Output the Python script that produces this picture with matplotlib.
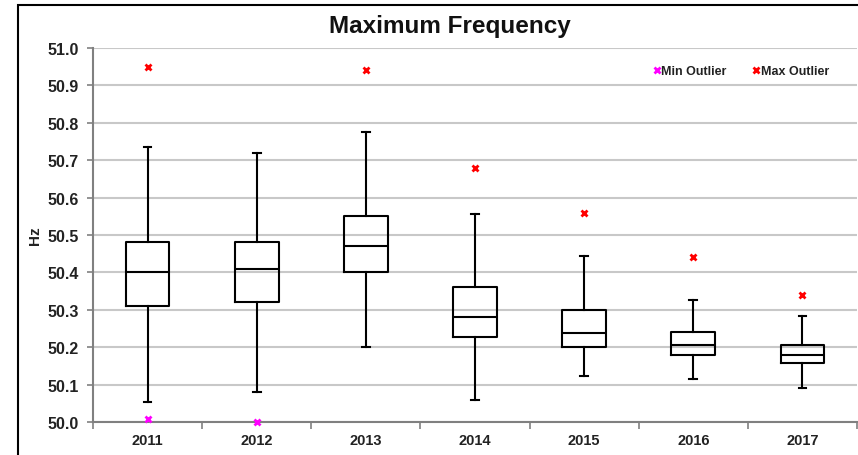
import matplotlib
matplotlib.use("Agg")
import matplotlib.pyplot as plt
from matplotlib.patches import Rectangle

plt.rcParams['font.family'] = ['Liberation Sans', 'DejaVu Sans']
plt.rcParams['font.weight'] = 'bold'

# data (Hz)
years = ['2011', '2012', '2013', '2014', '2015', '2016', '2017']
whisk_hi = [50.735, 50.72, 50.775, 50.557, 50.445, 50.326, 50.284]
q3 = [50.48, 50.48, 50.55, 50.36, 50.30, 50.24, 50.207]
median = [50.40, 50.41, 50.47, 50.28, 50.237, 50.205, 50.18]
q1 = [50.31, 50.32, 50.40, 50.226, 50.20, 50.18, 50.157]
whisk_lo = [50.053, 50.08, 50.20, 50.06, 50.122, 50.116, 50.09]
max_outlier = [50.95, None, 50.94, 50.68, 50.56, 50.44, 50.34]
min_outlier = [50.007, 50.0, None, None, None, None, None]

txt = '#222222'

fig = plt.figure(figsize=(8.58, 4.56), dpi=100)
ax = fig.add_axes([0.1084, 0.0724, 0.8904, 0.8201])

# chart frame
fig.patches.append(Rectangle((18 / 858, -0.05), 1.2, 1 - 6 / 456 + 0.05,
                             transform=fig.transFigure, fill=False,
                             edgecolor='black', linewidth=1.5))

stats = []
for i in range(len(years)):
    stats.append({'whislo': whisk_lo[i], 'q1': q1[i], 'med': median[i],
                  'q3': q3[i], 'whishi': whisk_hi[i], 'fliers': []})

pos = list(range(len(years)))
ax.bxp(stats, positions=pos, widths=0.4, showfliers=False,
       boxprops=dict(color='black', linewidth=1.5),
       medianprops=dict(color='black', linewidth=1.5),
       whiskerprops=dict(color='black', linewidth=1.5),
       capprops=dict(color='black', linewidth=1.5), capwidths=0.07)

mx = [(p, v) for p, v in zip(pos, max_outlier) if v is not None]
mn = [(p, v) for p, v in zip(pos, min_outlier) if v is not None]
ax.plot([p for p, v in mn], [v for p, v in mn], linestyle='none', marker='x',
        color='#ff00ff', markersize=5, markeredgewidth=2.0, label='Min Outlier',
        clip_on=False, zorder=5)
ax.plot([p for p, v in mx], [v for p, v in mx], linestyle='none', marker='x',
        color='#ff0000', markersize=5, markeredgewidth=2.0, label='Max Outlier',
        clip_on=False, zorder=5)

ax.set_xlim(-0.5, len(years) - 0.5)
ax.set_ylim(50.0, 51.0)
ax.set_yticks([50.0 + 0.1 * k for k in range(11)])
ax.set_yticklabels(['%.1f' % (50.0 + 0.1 * k) for k in range(11)])
ax.set_xticks(pos)
ax.set_xticklabels(years)
ax.set_xticks([p - 0.5 for p in range(len(years) + 1)], minor=True)
ax.tick_params(axis='x', which='major', length=0, pad=8, labelsize=10.5,
               labelcolor=txt)
ax.tick_params(axis='x', which='minor', length=5, color='#808080', width=1.2)
ax.tick_params(axis='y', length=4, color='#808080', width=1.2, labelsize=11.5,
               pad=6, labelcolor=txt)

ax.grid(axis='y', color='#c8c8c8', linewidth=1.5)
ax.set_axisbelow(True)
for s in ['top', 'right']:
    ax.spines[s].set_visible(False)
for s in ['left', 'bottom']:
    ax.spines[s].set_color('#808080')
    ax.spines[s].set_linewidth(1.5)

ax.set_ylabel('Hz', fontsize=11, fontweight='bold', labelpad=4, color=txt)
fig.text(450 / 858, 1 - 26 / 456, 'Maximum Frequency', ha='center',
         va='center', fontsize=17.5, fontweight='bold', color='#111111')

ax.legend(loc='upper right', bbox_to_anchor=(0.978, 0.985), ncol=2,
          frameon=False, fontsize=9, handlelength=0.4, handletextpad=0.15,
          columnspacing=2.2, markerscale=0.8, labelcolor=txt)

fig.savefig('out.png', dpi=100)
